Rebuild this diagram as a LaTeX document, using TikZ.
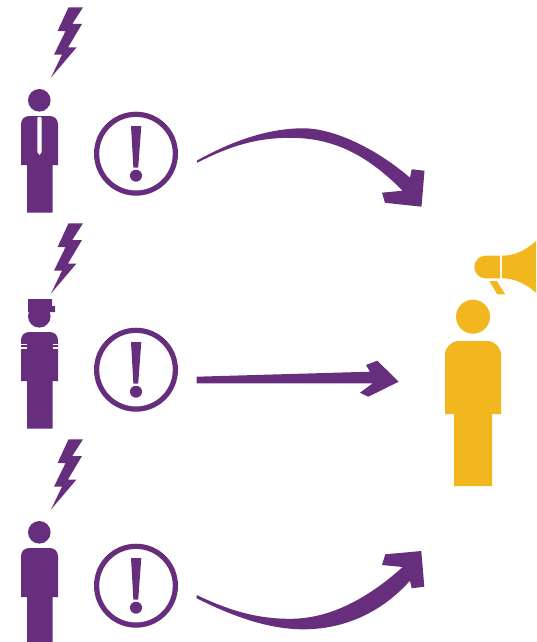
\documentclass[tikz,border=0pt]{standalone}
\definecolor{vio}{HTML}{682E7E}
\definecolor{gold}{HTML}{F2B71F}
\tikzset{
  vfill/.style={fill=vio,draw=none},
  gfill/.style={fill=gold,draw=none},
  gapfill/.style={fill=white,draw=none},
  bolt/.pic={\fill[vfill] (68.5,7.3)--(83,7.3)--(72.3,24)--(82,24)--(68,47.5)--(76.5,47.5)--(51,77.5)--(62,54.6)--(54,54.6)--(65.5,31.2)--(57.5,31.2)--cycle;},
  alert/.pic={
    \draw[draw=vio,line width=5.2pt] (136,153.7) circle[radius=39.4];
    \fill[vfill] (131,126)--(141.3,126)--(138.2,167.7)--(133.4,167.7)--cycle;
    \fill[vfill] (136,175.7) circle[radius=6];},
  torso/.pic={
    \fill[vfill] (21,165)--(21,124) arc[start angle=180,end angle=90,x radius=8,y radius=-8]
      --(50,116) arc[start angle=90,end angle=0,x radius=8,y radius=-8]--(58,165)--(52.5,165)--(52.5,212.5)--(27,212.5)--(27,165)--cycle;}
}
\begin{document}
\begin{tikzpicture}[x=1pt,y=-1pt]
\useasboundingbox (0,0) rectangle (536,642);
% person 1
\pic at (0,0) {bolt};
\fill[vfill] (39.3,100.3) circle[radius=11.3];
\pic at (0,0) {torso};
\fill[gapfill] (37.3,118.5)--(38,117)--(41,117)--(41.7,118.5)--(41.7,152)--(39.5,155)--(37.3,152)--cycle;
\pic at (0,0) {alert};
% person 2
\begin{scope}[shift={(0,216)}]
\pic at (0,0) {bolt};
\fill[vfill] (39.3,100.3) circle[radius=11.3];
\fill[vfill] (28,83)--(52,83)--(52,90)--(55,90)--(55,96)--(28,96)--cycle;
\pic at (0,0) {torso};
\fill[gapfill] (21,127.5) rectangle (27,129.2);
\fill[gapfill] (21,131) rectangle (27,132.6);
\fill[gapfill] (53,127.5) rectangle (58,129.2);
\fill[gapfill] (53,131) rectangle (58,132.6);
\pic at (0,0) {alert};
\end{scope}
% person 3
\begin{scope}[shift={(0,432)}]
\pic at (0,0) {bolt};
\fill[vfill] (39.3,100.3) circle[radius=11.3];
\pic at (0,0) {torso};
\pic at (0,0) {alert};
\end{scope}
% arrows
\fill[vfill] (196.7,160.7) .. controls (232,141) and (268,128.3) .. (303.3,128.3)
  .. controls (335,128.3) and (378,150) .. (410,177.7)
  --(411.7,169.3)--(424.5,170.7)--(421.5,206.7)--(385,202.8)--(382,192.7)--(402.7,190.7)
  .. controls (368,156) and (335,137.8) .. (290,137.8)
  .. controls (255,137.8) and (228,147) .. (197.3,162.7)--cycle;
\fill[vfill] (196.7,376.7)--(370,371.7)--(366,365)--(377.3,360.7)--(398.7,381.7)--(368.3,396.7)--(360,392.7)--(372.7,383.3)--(196.7,383.3)--cycle;
\fill[vfill] (196.7,595) .. controls (230,611) and (258,618.8) .. (290,618.8)
  .. controls (332,618.8) and (370,596.4) .. (402.7,567)
  --(382,565)--(385.3,554.3)--(421.3,551)--(424.3,586.7)--(411.7,588.3)--(410,580.7)
  .. controls (382,612) and (345,629.3) .. (303.3,629.3)
  .. controls (268,629.3) and (232,616) .. (196.7,598.3)--cycle;
% speaker
\fill[gfill] (473,316.7) circle[radius=17];
\fill[gfill] (445,414)--(445,355) arc[start angle=180,end angle=90,x radius=14,y radius=-14]
  --(487,341) arc[start angle=90,end angle=0,x radius=14,y radius=-14]--(501,414)--(492,414)--(492,486)--(454,486)--(454,414)--cycle;
\fill[gfill] (500,255.7)--(485.6,255.7) arc[start angle=90,end angle=270,x radius=11.3,y radius=-11.3]--(500,278.3)--cycle;
\fill[gfill] (502,255.7) .. controls (515,255.7) and (526,250) .. (536,241)--(536,292.7)
  .. controls (526,284) and (515,278.3) .. (502,278.3)--cycle;
\fill[gfill] (489.3,281)--(496.7,281)--(505.3,294.3)--(497.3,294.3)--cycle;
\end{tikzpicture}
\end{document}
